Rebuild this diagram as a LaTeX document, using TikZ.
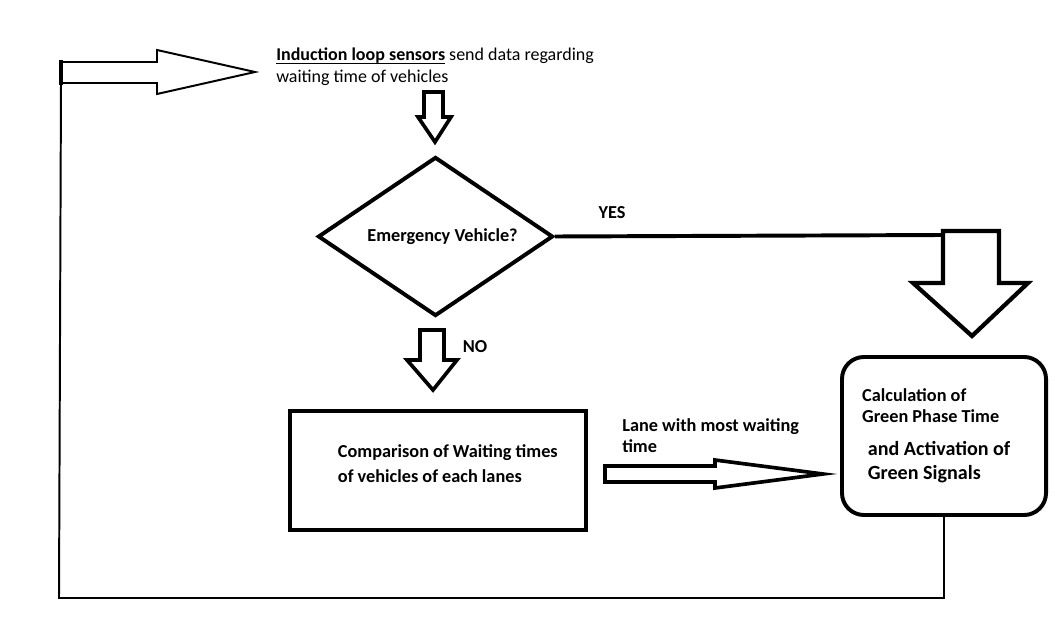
\documentclass[tikz,border=0pt]{standalone}
\usepackage{fontspec}
\setmainfont{Carlito}
\usetikzlibrary{shapes.geometric}
\newcommand\sensline[1]{\setbox0\hbox{#1}\rlap{\rule[-2.4pt]{\wd0}{1pt}}\box0\relax}

\begin{document}
\begin{tikzpicture}[x=0.025cm,y=-0.025cm,
	every node/.style={font=\fontsize{12.8}{15}\selectfont},
	lbl/.style={font=\bfseries\fontsize{13}{15.5}\selectfont},
	box/.style={draw,line width=2.8pt},
	blockarrow/.style={draw,line width=2.6pt,line join=miter,fill=white},
	loopline/.style={draw,line width=1.4pt}]
	\useasboundingbox (0,0) rectangle (1055,617);
	% nodes
	\node[anchor=north west,align=left,inner sep=0] (sens) at (276,48) {\sensline{\textbf{Induction loop sensors}} send data regarding\\waiting time of vehicles};
	\node[diamond,box,lbl,aspect=1.5,inner sep=0,minimum width=5.875cm,minimum height=3.975cm] (dec) at (435.5,236.5) {\hspace{10pt}Emergency Vehicle?};
	\node[box,lbl,align=left,text depth=10pt,minimum width=7.4cm,minimum height=2.975cm] (cmp) at (438,470.5) {\hspace{14pt}Comparison of Waiting times\\[2pt]\hspace{14pt}of vehicles of each lanes};
	\node[box,rounded corners=0.55cm,align=left,minimum width=5.1cm,minimum height=3.95cm,font=\bfseries\fontsize{13}{15}\selectfont] (calc) at (944,436)
		{Calculation of\\Green Phase Time\\[8pt]\fontsize{14.3}{17}\selectfont\hspace{4pt}and Activation of\hspace{11pt}\mbox{}\\[2.5pt]\fontsize{14.3}{17}\selectfont\hspace{4pt}Green Signals};
	\node[lbl] (yes) at (612,213) {YES};
	\node[lbl] (no) at (475,347) {NO};
	\node[lbl,anchor=north west,align=left,inner sep=0] (lane) at (622,418) {Lane with most waiting\\time};
	% connectors
	\coordinate (lb) at (59,598);
	\coordinate (lt) at (61,83);
	\draw[loopline] (calc.south) |- (lb) -- (lt);
	\draw[line width=1.4pt,line join=miter] (62,62) -- (157,62) -- (157,50) -- (255,72) -- (157,94) -- (157,83) -- (62,83);
	\draw[line width=3.2pt] (61,60) -- (61,85);
	\draw[blockarrow] (424,92) -- (443,92) -- (443,117) -- (451,117) -- (435,142) -- (418,117) -- (424,117) -- cycle;
	\draw[box] (dec.east) -- (943,235);
	\draw[blockarrow,line width=3pt] (943,231) -- (999,231) -- (999,283) -- (1028,283) -- (972,336) -- (913,283) -- (943,283) -- cycle;
	\draw[blockarrow] (420,330) -- (444,330) -- (444,360) -- (457,360) -- (433,390) -- (407,360) -- (420,360) -- cycle;
	\draw[blockarrow] (605,466) -- (715,466) -- (715,460) -- (823,474) -- (715,488) -- (715,482) -- (605,482) -- cycle;
\end{tikzpicture}
\end{document}
